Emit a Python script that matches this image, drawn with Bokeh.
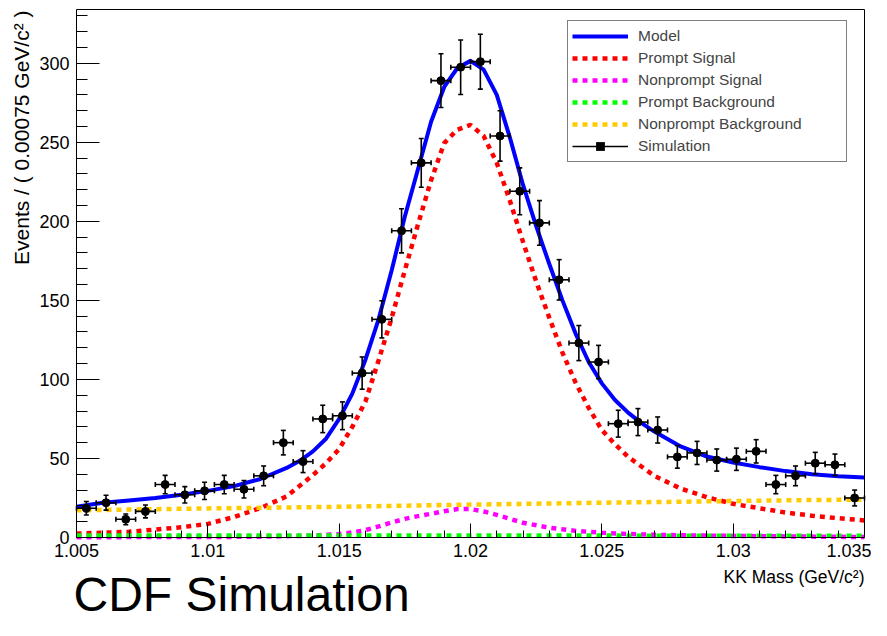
import math
from bokeh.plotting import figure
from bokeh.models import (Range1d, FixedTicker, CustomJSTickFormatter, Label,
                          Legend, LegendItem, ColumnDataSource, LinearAxis)
from bokeh.embed import file_html
from bokeh.resources import INLINE

# ---------------- data ----------------
bin_low = 1.005
bin_width = 0.00075
counts = [18.5, 22, 11.5, 16.5, 33.5, 27, 29.5, 33.5, 30.5, 39,
          60, 48, 75, 77, 104, 138, 194, 237, 289, 297.5,
          301, 254, 219, 199, 163, 123, 111, 72, 73, 68,
          51, 53.5, 49, 49.5, 54.5, 33.5, 39, 47, 46, 25]

model_x = [1.005, 1.006, 1.007, 1.008, 1.009, 1.010, 1.011, 1.012, 1.013, 1.0135,
           1.014, 1.0145, 1.015, 1.0155, 1.016, 1.0165, 1.017, 1.0175, 1.018, 1.0185,
           1.019, 1.0195, 1.020, 1.0205, 1.021, 1.0215, 1.022, 1.0225, 1.023, 1.0235,
           1.024, 1.0245, 1.025, 1.0255, 1.026, 1.0265, 1.027, 1.028, 1.029, 1.030,
           1.031, 1.032, 1.033, 1.034, 1.035]
model_y = [19.5, 22, 23.4, 25, 27, 29.5, 32.5, 37, 44, 48.5,
           54.5, 62.5, 75, 91, 112.5, 138, 169, 203, 233, 263,
           285, 297, 301.5, 296, 280, 253, 223, 197, 173, 150,
           129, 111, 97.5, 87, 79, 72.5, 67, 57.6, 51.2, 47.4,
           44.5, 42, 40, 38.8, 38]

sig_x = [1.005, 1.006, 1.007, 1.008, 1.009, 1.010, 1.011, 1.012, 1.013,
         1.014, 1.0145, 1.015, 1.0155, 1.016, 1.0165, 1.017, 1.0175, 1.018, 1.0185,
         1.019, 1.0195, 1.020, 1.0205, 1.021, 1.0215, 1.022, 1.0225, 1.023, 1.0235,
         1.024, 1.0245, 1.025, 1.0255, 1.026, 1.027, 1.028, 1.029, 1.030, 1.031,
         1.032, 1.033, 1.034, 1.035]
sig_y = [2.5, 3.0, 3.6, 5.0, 6.5, 8.6, 13.0, 18.6, 26,
         39.5, 47, 56, 70, 86, 112, 139, 169, 198, 226,
         249.5, 258, 261, 254, 237, 213, 187, 162, 139, 117,
         98, 82, 68, 59, 51, 39, 31, 25.5, 21.3, 18.5,
         15.8, 13.8, 12.2, 10.8]

nps_x = [1.005, 1.010, 1.012, 1.013, 1.014, 1.015, 1.0155, 1.016, 1.0165, 1.017,
         1.0175, 1.018, 1.0185, 1.019, 1.0195, 1.020, 1.0205, 1.021, 1.0215, 1.022,
         1.023, 1.024, 1.025, 1.026, 1.027, 1.028, 1.030, 1.032, 1.035]
nps_y = [0.2, 0.3, 0.5, 0.8, 1.2, 2.2, 3.2, 4.6, 7.0, 9.5,
         11.8, 13.5, 15.0, 16.6, 18.0, 18.0, 16.5, 14.3, 11.8, 9.3,
         6.2, 4.2, 3.0, 2.2, 1.7, 1.4, 1.0, 0.7, 0.3]

pbg_x = [1.005, 1.010, 1.015, 1.020, 1.025, 1.030, 1.035]
pbg_y = [1.3, 1.3, 1.2, 1.2, 1.2, 1.1, 1.1]

npbg_x = [1.005, 1.0075, 1.010, 1.0125, 1.015, 1.0175, 1.020, 1.0225, 1.025,
          1.0275, 1.030, 1.0325, 1.035]
npbg_y = [17.2, 17.8, 18.4, 18.9, 19.4, 20.1, 20.8, 21.4, 22.0,
          22.5, 23.1, 23.6, 24.0]

x_lo, x_hi = 1.005, 1.035
y_lo, y_hi = 0, 334
x_major = [1.005, 1.01, 1.015, 1.02, 1.025, 1.03, 1.035]
x_minor = [1.006, 1.007, 1.008, 1.009, 1.011, 1.012, 1.013, 1.014, 1.016, 1.017,
           1.018, 1.019, 1.021, 1.022, 1.023, 1.024, 1.026, 1.027, 1.028, 1.029,
           1.031, 1.032, 1.033, 1.034]
y_major = [0, 50, 100, 150, 200, 250, 300]
y_minor = [10, 20, 30, 40, 60, 70, 80, 90, 110, 120, 130, 140, 160, 170, 180, 190,
           210, 220, 230, 240, 260, 270, 280, 290, 310, 320, 330]

legend_labels = ["Model", "Prompt Signal", "Nonprompt Signal", "Prompt Background",
                 "Nonprompt Background", "Simulation"]
y_title = "Events / ( 0.00075 GeV/c² )"
x_title = "KK Mass (GeV/c²)"
caption = "CDF Simulation"

# ---------------- derived ----------------
centers = [bin_low + (i + 0.5) * bin_width for i in range(len(counts))]
errs = [math.sqrt(c) for c in counts]
src = ColumnDataSource(dict(
    x=centers, y=counts,
    xlo=[c - bin_width / 2 for c in centers], xhi=[c + bin_width / 2 for c in centers],
    ylo=[c - e for c, e in zip(counts, errs)], yhi=[c + e for c, e in zip(counts, errs)],
))

FONT = "Liberation Sans"
W, H = 871, 620
# pixel geometry of the axes box inside the canvas
FL, FR, FT, FB = 76, 864, 9, 537
xs = (x_hi - x_lo) / (FR - FL)      # data units per px
ys = (y_hi - y_lo) / (FB - FT)

p = figure(width=W, height=H, output_backend="svg", toolbar_location=None, title=None,
           x_range=Range1d(x_lo - FL * xs, x_hi + (W - FR) * xs),
           y_range=Range1d(y_lo - (H - FB) * ys, y_hi + FT * ys),
           min_border=0, min_border_left=0, min_border_right=0,
           min_border_top=0, min_border_bottom=0,
           background_fill_color="white", border_fill_color="white")
p.outline_line_color = None
p.xgrid.visible = False
p.ygrid.visible = False

xa = p.xaxis[0]
ya = p.yaxis[0]
xa.fixed_location = y_lo
xa.bounds = (x_lo, x_hi)
ya.fixed_location = x_lo
ya.bounds = (y_lo, y_hi)
xa.ticker = FixedTicker(ticks=x_major, minor_ticks=x_minor)
ya.ticker = FixedTicker(ticks=y_major, minor_ticks=y_minor)
xa.formatter = CustomJSTickFormatter(code="return tick.toFixed(3).replace(/0+$/, '');")
for ax in (xa, ya):
    ax.axis_line_color = "black"
    ax.axis_line_width = 1
    ax.major_tick_line_color = "black"
    ax.minor_tick_line_color = "black"
    ax.major_tick_out = 0
    ax.minor_tick_out = 0
    ax.major_label_text_font = FONT
    ax.major_label_text_font_size = "18px"
    ax.major_label_text_color = "black"
xa.major_tick_in = 14
xa.minor_tick_in = 7
ya.major_tick_in = 23
ya.minor_tick_in = 11
xa.major_label_standoff = 6
ya.major_label_standoff = 7

# closing frame lines (top and right) as bare axes
top_ax = LinearAxis(fixed_location=y_hi, bounds=(x_lo, x_hi), ticker=FixedTicker(ticks=[]),
                    major_tick_in=0, major_tick_out=0, minor_tick_in=0, minor_tick_out=0,
                    axis_line_color="black", axis_line_width=1)
right_ax = LinearAxis(fixed_location=x_hi, bounds=(y_lo, y_hi), ticker=FixedTicker(ticks=[]),
                      major_tick_in=0, major_tick_out=0, minor_tick_in=0, minor_tick_out=0,
                      axis_line_color="black", axis_line_width=1)
p.add_layout(top_ax, "above")
p.add_layout(right_ax, "right")

dash = "5 5"
r_sig = p.line(sig_x, sig_y, line_color="#ff0000", line_width=4.5, line_dash=dash, line_cap="butt")
r_nps = p.line(nps_x, nps_y, line_color="#ff00ff", line_width=4.5, line_dash=dash, line_cap="butt")
r_pbg = p.line(pbg_x, pbg_y, line_color="#00ff00", line_width=4.5, line_dash=dash, line_cap="butt")
r_npbg = p.line(npbg_x, npbg_y, line_color="#ffcc00", line_width=4.5, line_dash=dash, line_cap="butt")
r_model = p.line(model_x, model_y, line_color="#0000ff", line_width=4, line_join="round")

r_h = p.segment(x0="xlo", y0="y", x1="xhi", y1="y", source=src, line_color="black", line_width=1.6)
p.segment(x0="x", y0="ylo", x1="x", y1="yhi", source=src, line_color="black", line_width=1.6)
p.scatter(x="x", y="ylo", source=src, marker="dash", size=5, line_color="black", line_width=1.6)
p.scatter(x="x", y="yhi", source=src, marker="dash", size=5, line_color="black", line_width=1.6)
p.scatter(x="xlo", y="y", source=src, marker="dash", angle=math.pi / 2, size=5, line_color="black", line_width=1.6)
p.scatter(x="xhi", y="y", source=src, marker="dash", angle=math.pi / 2, size=5, line_color="black", line_width=1.6)
p.scatter(x="x", y="y", source=src, marker="circle", size=8, color="black")
# legend-only square marker (zero size on the plot)
r_sq = p.scatter(x="x", y="y", source=src, marker="square", size=0, fill_color="black",
                 line_alpha=0)

items = [LegendItem(label=legend_labels[0], renderers=[r_model]),
         LegendItem(label=legend_labels[1], renderers=[r_sig]),
         LegendItem(label=legend_labels[2], renderers=[r_nps]),
         LegendItem(label=legend_labels[3], renderers=[r_pbg]),
         LegendItem(label=legend_labels[4], renderers=[r_npbg]),
         LegendItem(label=legend_labels[5], renderers=[r_h, r_sq])]
legend = Legend(items=items, location=(567, H - 162), padding=4, spacing=0, margin=0,
                label_height=22, glyph_height=22, glyph_width=56, label_standoff=10,
                label_width=204, border_line_color="black", border_line_width=1,
                background_fill_color="white", background_fill_alpha=1,
                label_text_font=FONT, label_text_font_size="15.5px",
                label_text_baseline="middle")
p.add_layout(legend)

p.add_layout(Label(x=x_lo - 55.5 * xs, y=y_hi - 1 * ys, text=y_title, angle=math.pi / 2,
                   text_align="right", text_baseline="middle",
                   text_font=FONT, text_font_size="21px", text_color="black"))
p.add_layout(Label(x=x_hi, y=y_lo - 39 * ys, text=x_title, text_align="right",
                   text_baseline="middle", text_font=FONT, text_font_size="17.5px",
                   text_color="black"))
p.add_layout(Label(x=x_lo - 3 * xs, y=y_lo - 57 * ys, text=caption, text_align="left",
                   text_baseline="middle", text_font=FONT, text_font_size="48px",
                   text_color="black"))

open("out.html", "w").write(file_html(p, INLINE))
